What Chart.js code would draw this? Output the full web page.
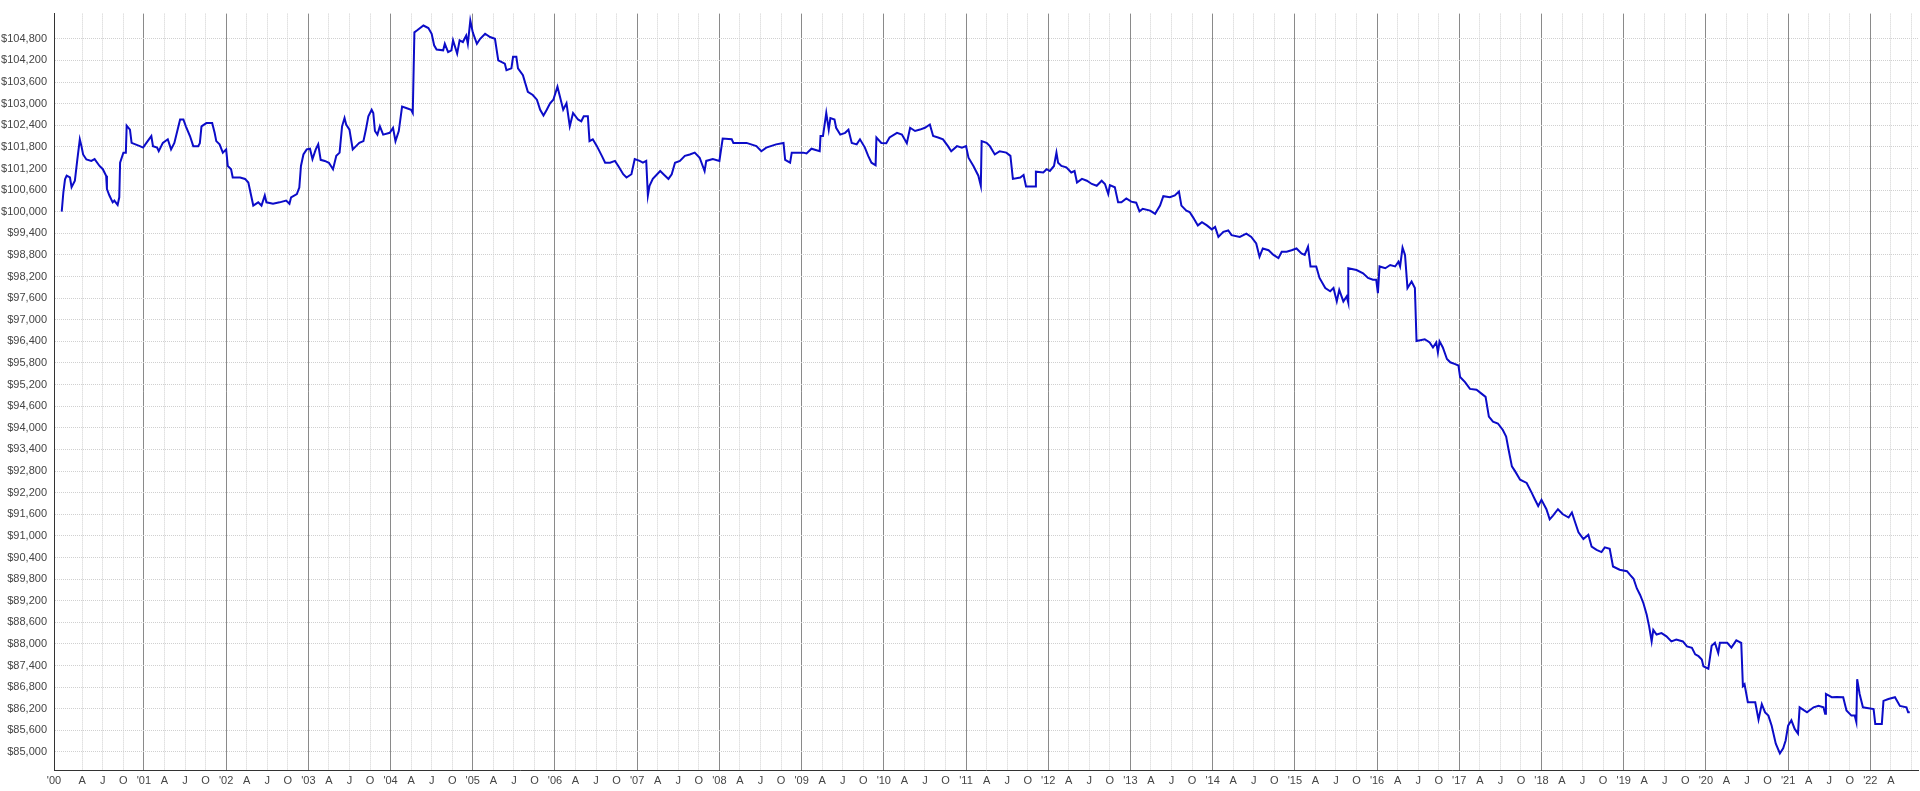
<!DOCTYPE html>
<html>
<head>
<meta charset="utf-8">
<title>Balance history</title>
<script src="https://cdn.jsdelivr.net/npm/chart.js@4.4.0/dist/chart.umd.min.js"></script>
<style>
    html, body { margin: 0; padding: 0; background: #fff; }
    #wrap { width: 1920px; height: 791px; }
</style>
</head>
<body>
<div id="wrap"><canvas id="balanceChart" width="1920" height="791"></canvas></div>
<script>
// 数据：日期（小数年）与账户余额
const dates = [
    2000.00, 2000.02, 2000.04, 2000.06, 2000.10, 2000.12, 2000.16, 2000.19, 2000.22, 2000.24, 2000.26, 2000.30, 2000.36, 2000.40, 2000.46, 2000.50, 2000.54, 2000.55, 2000.58, 2000.62, 2000.64, 2000.68, 2000.70, 2000.71, 2000.75, 2000.78, 2000.79, 2000.83, 2000.85, 2000.95, 2000.99,
    2001.03, 2001.09, 2001.11, 2001.16, 2001.18, 2001.23, 2001.29, 2001.33, 2001.37, 2001.44, 2001.48, 2001.51, 2001.56, 2001.60, 2001.66, 2001.68, 2001.70, 2001.76, 2001.83, 2001.86, 2001.88, 2001.92, 2001.96,
    2002.00, 2002.02, 2002.06, 2002.08, 2002.17, 2002.23, 2002.27, 2002.30, 2002.33, 2002.39, 2002.43, 2002.47, 2002.49, 2002.57, 2002.65, 2002.73, 2002.77, 2002.79, 2002.86, 2002.89, 2002.91, 2002.94, 2002.98,
    2003.02, 2003.05, 2003.09, 2003.12, 2003.15, 2003.20, 2003.25, 2003.30, 2003.34, 2003.38, 2003.41, 2003.44, 2003.46, 2003.50, 2003.54, 2003.58, 2003.62, 2003.67, 2003.70, 2003.73, 2003.77, 2003.79, 2003.81, 2003.84, 2003.87, 2003.91, 2003.99,
    2004.03, 2004.06, 2004.10, 2004.14, 2004.19, 2004.25, 2004.27, 2004.29, 2004.32, 2004.40, 2004.46, 2004.50, 2004.53, 2004.56, 2004.64, 2004.66, 2004.70, 2004.74, 2004.76, 2004.81, 2004.84, 2004.88, 2004.92, 2004.94, 2004.97,
    2005.00, 2005.05, 2005.09, 2005.15, 2005.21, 2005.27, 2005.31, 2005.39, 2005.41, 2005.47, 2005.49, 2005.53, 2005.55, 2005.61, 2005.67, 2005.73, 2005.78, 2005.82, 2005.86, 2005.90, 2005.94, 2005.98,
    2006.03, 2006.06, 2006.10, 2006.14, 2006.18, 2006.22, 2006.28, 2006.32, 2006.35, 2006.40, 2006.42, 2006.46, 2006.51, 2006.57, 2006.61, 2006.67, 2006.73, 2006.77, 2006.83, 2006.87, 2006.93, 2006.97,
    2007.03, 2007.07, 2007.11, 2007.13, 2007.15, 2007.19, 2007.28, 2007.32, 2007.38, 2007.42, 2007.46, 2007.52, 2007.58, 2007.64, 2007.70, 2007.76, 2007.82, 2007.84, 2007.92,
    2008.00, 2008.04, 2008.15, 2008.17, 2008.33, 2008.45, 2008.51, 2008.57, 2008.69, 2008.78, 2008.80, 2008.86, 2008.88,
    2009.02, 2009.06, 2009.12, 2009.22, 2009.23, 2009.26, 2009.30, 2009.33, 2009.35, 2009.40, 2009.42, 2009.47, 2009.53, 2009.57, 2009.61, 2009.67, 2009.71, 2009.77, 2009.81, 2009.85, 2009.90, 2009.91, 2009.97,
    2010.03, 2010.07, 2010.16, 2010.22, 2010.28, 2010.32, 2010.38, 2010.44, 2010.50, 2010.56, 2010.60, 2010.66, 2010.72, 2010.78, 2010.82, 2010.89, 2010.95,
    2011.00, 2011.03, 2011.09, 2011.15, 2011.18, 2011.19, 2011.25, 2011.29, 2011.35, 2011.41, 2011.49, 2011.54, 2011.57, 2011.66, 2011.70, 2011.73, 2011.84, 2011.85, 2011.94, 2011.98,
    2012.02, 2012.07, 2012.10, 2012.12, 2012.16, 2012.22, 2012.28, 2012.32, 2012.35, 2012.41, 2012.47, 2012.53, 2012.59, 2012.65, 2012.69, 2012.73, 2012.75, 2012.81, 2012.85, 2012.89, 2012.95,
    2013.01, 2013.07, 2013.11, 2013.15, 2013.24, 2013.30, 2013.36, 2013.40, 2013.48, 2013.54, 2013.59, 2013.62, 2013.68, 2013.72, 2013.76, 2013.82, 2013.87, 2013.93, 2013.99,
    2014.03, 2014.07, 2014.13, 2014.19, 2014.23, 2014.33, 2014.41, 2014.47, 2014.53, 2014.57, 2014.61, 2014.68, 2014.74, 2014.80, 2014.84, 2014.90, 2014.96,
    2015.02, 2015.08, 2015.12, 2015.16, 2015.19, 2015.26, 2015.30, 2015.37, 2015.43, 2015.47, 2015.51, 2015.54, 2015.59, 2015.63, 2015.65, 2015.65, 2015.75, 2015.83, 2015.89, 2015.95, 2015.99,
    2016.01, 2016.03, 2016.10, 2016.16, 2016.22, 2016.26, 2016.28, 2016.31, 2016.34, 2016.37, 2016.42, 2016.46, 2016.48, 2016.58, 2016.64, 2016.68, 2016.72, 2016.74, 2016.76, 2016.80, 2016.85, 2016.89, 2016.95, 2016.99,
    2017.01, 2017.07, 2017.13, 2017.21, 2017.27, 2017.32, 2017.36, 2017.41, 2017.47, 2017.53, 2017.57, 2017.60, 2017.64, 2017.68, 2017.74, 2017.82, 2017.88, 2017.92, 2017.96,
    2018.00, 2018.06, 2018.10, 2018.14, 2018.20, 2018.26, 2018.33, 2018.37, 2018.41, 2018.45, 2018.51, 2018.57, 2018.61, 2018.67, 2018.73, 2018.77, 2018.83, 2018.87, 2018.95,
    2019.04, 2019.08, 2019.12, 2019.16, 2019.20, 2019.24, 2019.28, 2019.31, 2019.34, 2019.36, 2019.40, 2019.46, 2019.52, 2019.58, 2019.64, 2019.72, 2019.77, 2019.83, 2019.87, 2019.91, 2019.95, 2019.97,
    2020.03, 2020.07, 2020.11, 2020.15, 2020.17, 2020.26, 2020.31, 2020.37, 2020.43, 2020.45, 2020.47, 2020.51, 2020.60, 2020.64, 2020.68, 2020.72, 2020.76, 2020.80, 2020.85, 2020.90, 2020.94, 2020.97,
    2021.00, 2021.04, 2021.08, 2021.12, 2021.14, 2021.23, 2021.31, 2021.37, 2021.43, 2021.45, 2021.46, 2021.53, 2021.59, 2021.67, 2021.71, 2021.77, 2021.81, 2021.83, 2021.84, 2021.87, 2021.91, 2021.96,
    2022.04, 2022.06, 2022.14, 2022.16, 2022.22, 2022.30, 2022.36, 2022.44, 2022.46, 2022.48
];

const values = [
    100000, 100540, 100900, 101000, 100950, 100680, 100860, 101450, 102010, 101820, 101590, 101450, 101410, 101460, 101270, 101180, 101000, 100630, 100450, 100260, 100310, 100190, 100400, 101360, 101640, 101640, 102390, 102280, 101910, 101820, 101780,
    101910, 102100, 101820, 101780, 101680, 101910, 102010, 101730, 101910, 102560, 102560, 102370, 102100, 101820, 101820, 101900, 102370, 102460, 102460, 102190, 101960, 101870, 101640,
    101730, 101270, 101180, 100950, 100950, 100910, 100810, 100490, 100170, 100260, 100170, 100450, 100260, 100220, 100260, 100310, 100220, 100400, 100490, 100670, 101270, 101590, 101730,
    101750, 101460, 101730, 101870, 101440, 101410, 101360, 101180, 101550, 101640, 102370, 102600, 102420, 102280, 101730, 101820, 101910, 101960, 102280, 102650, 102830, 102740, 102240, 102140, 102370, 102140, 102190,
    102330, 101960, 102240, 102920, 102880, 102830, 102740, 104980, 105030, 105170, 105100, 104940, 104620, 104500, 104480, 104660, 104430, 104480, 104760, 104390, 104760, 104710, 104890, 104660, 105310,
    104980, 104660, 104800, 104940, 104850, 104800, 104200, 104110, 103930, 103980, 104300, 104300, 103980, 103790, 103330, 103240, 103110, 102830, 102670, 102830, 103010, 103110,
    103470, 103200, 102830, 103010, 102370, 102740, 102560, 102510, 102650, 102650, 101960, 102010, 101820, 101550, 101360, 101360, 101410, 101270, 101040, 100950, 101040, 101460,
    101410, 101360, 101410, 100450, 100720, 100910, 101130, 101040, 100910, 101040, 101360, 101410, 101550, 101590, 101640, 101500, 101130, 101410, 101460,
    101410, 102030, 102010, 101910, 101910, 101820, 101680, 101780, 101870, 101910, 101440, 101360, 101640,
    101640, 101620, 101750, 101680, 102100, 102100, 102740, 102280, 102600, 102560, 102330, 102140, 102190, 102280, 101910, 101870, 102010, 101780, 101550, 101360, 101290, 102060, 101910,
    101900, 102060, 102190, 102140, 101900, 102330, 102240, 102280, 102330, 102420, 102100, 102060, 102010, 101820, 101680, 101820, 101780,
    101820, 101500, 101270, 101000, 100720, 101960, 101910, 101820, 101590, 101680, 101640, 101550, 100910, 100950, 101020, 100700, 100700, 101110, 101090, 101180,
    101130, 101270, 101640, 101360, 101270, 101230, 101090, 101130, 100810, 100910, 100860, 100770, 100720, 100860, 100770, 100490, 100740, 100680, 100260, 100260, 100370,
    100280, 100250, 100010, 100080, 100030, 99940, 100170, 100430, 100400, 100450, 100560, 100170, 100030, 99990, 99850, 99620, 99710, 99620, 99510,
    99580, 99300, 99440, 99480, 99350, 99300, 99390, 99300, 99120, 98750, 98980, 98930, 98800, 98710, 98890, 98890, 98930,
    98980, 98840, 98800, 99030, 98480, 98480, 98160, 97880, 97790, 97880, 97510, 97830, 97510, 97650, 97470, 98430, 98380, 98290, 98160, 98110, 98110,
    97740, 98480, 98430, 98520, 98480, 98610, 98480, 99000, 98800, 97880, 98060, 97880, 96410, 96460, 96370, 96230, 96370, 96090, 96400, 96230, 95910, 95820, 95770, 95730,
    95410, 95270, 95080, 95060, 94950, 94860, 94310, 94170, 94120, 93940, 93760, 93390, 92930, 92790, 92560, 92470, 92200, 92010, 91830,
    92000, 91740, 91460, 91560, 91740, 91600, 91510, 91650, 91370, 91100, 90910, 91030, 90700, 90610, 90550, 90680, 90640, 90150, 90060,
    90020, 89910, 89810, 89540, 89360, 89130, 88810, 88480, 88070, 88390, 88260, 88300, 88210, 88070, 88120, 88070, 87930, 87890, 87710, 87660, 87570, 87380,
    87310, 87950, 88030, 87750, 88030, 88030, 87900, 88100, 88030, 86830, 86880, 86380, 86380, 85900, 86330, 86100, 86010, 85730, 85230, 84960, 85100, 85320,
    85730, 85880, 85640, 85510, 86240, 86100, 86240, 86280, 86240, 86060, 86610, 86520, 86530, 86520, 86150, 86010, 86010, 85830, 87020, 86610, 86240, 86220,
    86190, 85780, 85780, 86420, 86470, 86520, 86280, 86240, 86100, 86100
];

// 刻度
const yTickValues = [
    85000, 85600, 86200, 86800, 87400, 88000, 88600, 89200, 89800, 90400, 91000, 91600,
    92200, 92800, 93400, 94000, 94600, 95200, 95800, 96400, 97000, 97600, 98200, 98800,
    99400, 100000, 100600, 101200, 101800, 102400, 103000, 103600, 104200, 104800
];
const yearLabels = ["'00", "'01", "'02", "'03", "'04", "'05", "'06", "'07", "'08", "'09", "'10", "'11",
    "'12", "'13", "'14", "'15", "'16", "'17", "'18", "'19", "'20", "'21", "'22"];
const quarterLabels = ['A', 'J', 'O'];

const X_MIN = 1999.906;
const X_MAX = 2022.58;
const Y_MIN = 84500;
const Y_MAX = 105500;

const FONT = 'Arial, "Liberation Sans", sans-serif';

// x轴刻度：起点 + 每季度
function buildXTicks() {
    const ticks = [{ value: X_MIN, label: yearLabels[0] }];
    for (let y = 0; y < yearLabels.length; y++) {
        const year = 2000 + y;
        if (y > 0) ticks.push({ value: year, label: yearLabels[y] });
        quarterLabels.forEach((q, i) => {
            const v = year + (i + 1) * 0.25;
            if (v <= X_MAX) ticks.push({ value: v, label: v > 2022.4 ? '' : q });
        });
    }
    return ticks;
}
const xTicks = buildXTicks();

function isYearTick(v) {
    return Math.abs(v - Math.round(v)) < 1e-6;
}

document.addEventListener('DOMContentLoaded', function() {
    initializeChart();
});

function initializeChart() {
    const ctx = document.getElementById('balanceChart');
    const points = dates.map((d, i) => ({ x: d, y: values[i] }));

    new Chart(ctx, {
        type: 'line',
        data: {
            datasets: [{
                data: points,
                borderColor: '#0c0cc8',
                borderWidth: 2,
                pointRadius: 0,
                pointHoverRadius: 0,
                tension: 0,
                fill: false
            }]
        },
        options: {
            responsive: false,
            devicePixelRatio: 1,
            animation: false,
            layout: { padding: { top: 7, right: 2, left: 0, bottom: 0 } },
            plugins: {
                legend: { display: false },
                tooltip: { enabled: false }
            },
            scales: {
                x: {
                    type: 'linear',
                    min: X_MIN,
                    max: X_MAX,
                    afterBuildTicks: s => { s.ticks = xTicks.map(t => ({ value: t.value })); },
                    afterFit: s => { s.height = 21; },
                    ticks: {
                        autoSkip: false,
                        maxRotation: 0,
                        padding: 4,
                        color: '#444',
                        font: { family: FONT, size: 11 },
                        callback: (v, i) => xTicks[i] ? xTicks[i].label : ''
                    },
                    grid: {
                        drawTicks: false,
                        lineWidth: 1,
                        color: c => {
                            if (!c.tick) return '#d0d0d0';
                            if (c.tick.value === X_MIN) return 'rgba(0,0,0,0)';
                            return isYearTick(c.tick.value) ? '#8a8a8a' : '#d0d0d0';
                        }
                    },
                    border: {
                        color: '#333',
                        width: 1,
                        dash: c => (c.tick && !isYearTick(c.tick.value)) ? [1, 1] : []
                    }
                },
                y: {
                    type: 'linear',
                    min: Y_MIN,
                    max: Y_MAX,
                    afterBuildTicks: s => { s.ticks = yTickValues.map(v => ({ value: v })); },
                    afterFit: s => { s.width = 54; },
                    ticks: {
                        autoSkip: false,
                        padding: 7,
                        color: '#444',
                        font: { family: FONT, size: 11 },
                        callback: v => '$' + Number(v).toLocaleString('en-US')
                    },
                    grid: {
                        drawTicks: false,
                        lineWidth: 1,
                        color: '#d0d0d0'
                    },
                    border: {
                        color: '#333',
                        width: 1,
                        dash: c => c.tick ? [1, 1] : []
                    }
                }
            }
        }
    });
}
</script>
</body>
</html>
